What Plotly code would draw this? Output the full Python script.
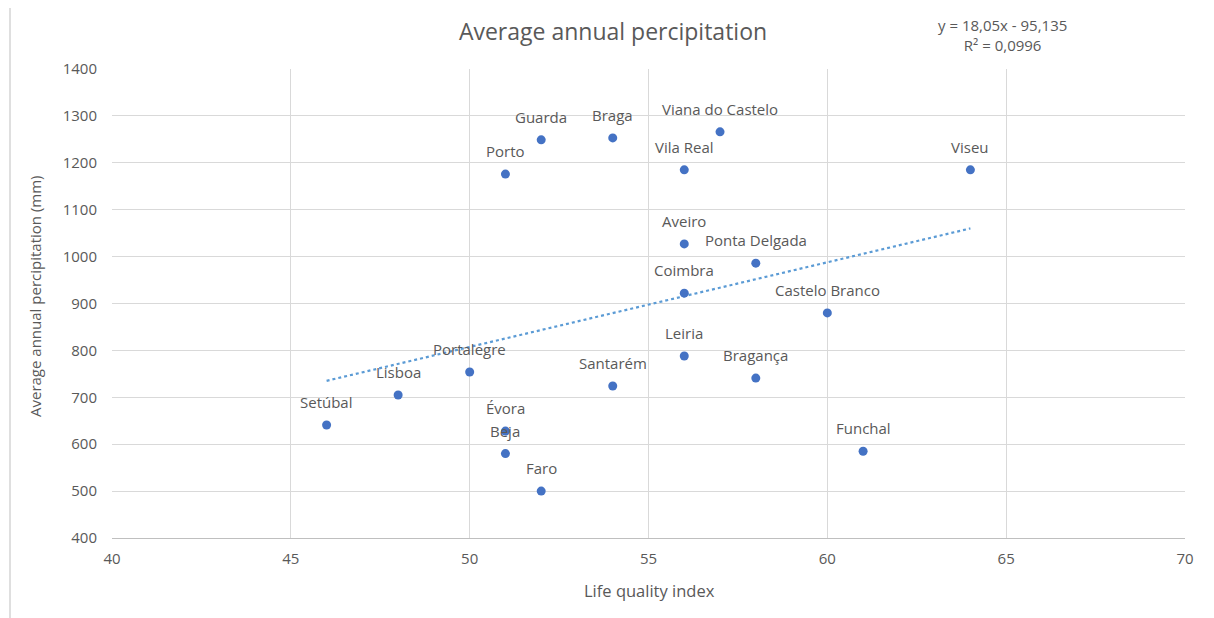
import plotly.graph_objects as go

cities = ["Setúbal", "Lisboa", "Portalegre", "Évora", "Beja", "Faro", "Porto", "Guarda",
          "Braga", "Santarém", "Viana do Castelo", "Vila Real", "Aveiro", "Coimbra", "Leiria",
          "Ponta Delgada", "Bragança", "Castelo Branco", "Funchal", "Viseu"]
life_quality = [46, 48, 50, 51, 51, 52, 51, 52, 54, 54, 57, 56, 56, 56, 56, 58, 58, 60, 61, 64]
precipitation = [641, 705, 754, 628, 580, 500, 1176, 1249, 1253, 724, 1266, 1185, 1027, 922, 788,
                 986, 741, 880, 585, 1185]

trend_slope = 18.05
trend_intercept = -95.135
trend_r2 = "0,0996"
x_ticks = [40, 45, 50, 55, 60, 65, 70]
y_ticks = [400, 500, 600, 700, 800, 900, 1000, 1100, 1200, 1300, 1400]

FONT = "'Open Sans', sans-serif"
TXT = "#595959"

W, H = 1214, 618
L, R, T, B = 104, 37, 61, 88
PW, PH = W - L - R, H - T - B


def px(fx):
    return (fx - L) / PW


def py(fy):
    return (H - B - fy) / PH


fig = go.Figure()

tx = [min(life_quality), max(life_quality)]
ty = [trend_slope * v + trend_intercept for v in tx]
fig.add_trace(go.Scatter(x=tx, y=ty, mode="lines",
                         line=dict(color="#5b9bd5", width=2.2, dash="dot"),
                         hoverinfo="skip", showlegend=False))

fig.add_trace(go.Scatter(x=life_quality, y=precipitation, mode="markers",
                         marker=dict(color="#4472c4", size=9),
                         text=cities, showlegend=False))

for c, xv, yv in zip(cities, life_quality, precipitation):
    fig.add_annotation(x=xv, y=yv, text=c, showarrow=False, yshift=23,
                       font=dict(family=FONT, size=15, color=TXT))

slope_txt = str(trend_slope).replace('.', ',')
icpt_txt = str(abs(trend_intercept)).replace('.', ',')
fig.add_annotation(xref="paper", yref="paper", x=px(994), y=py(26.5),
                   xanchor="center", yanchor="middle",
                   text=f"y = {slope_txt}x - {icpt_txt}<br>R² = {trend_r2}",
                   showarrow=False, align="center",
                   font=dict(family=FONT, size=15, color=TXT))

fig.add_annotation(xref="paper", yref="paper", x=px(641.5), y=py(582),
                   xanchor="center", yanchor="middle",
                   text="Life quality index", showarrow=False,
                   font=dict(family=FONT, size=16.5, color=TXT))
fig.add_annotation(xref="paper", yref="paper", x=px(27), y=py(288), xanchor="center",
                   yanchor="middle", textangle=-90,
                   text="Average annual percipitation (mm)", showarrow=False,
                   font=dict(family=FONT, size=15, color=TXT))

fig.add_shape(type="line", xref="paper", yref="paper",
              x0=px(2), x1=px(2), y0=py(612), y1=py(-3),
              line=dict(color="#bfbfbf", width=1))

fig.update_layout(
    width=W, height=H,
    margin=dict(l=L, r=R, t=T, b=B),
    paper_bgcolor="white", plot_bgcolor="white",
    title=dict(text="Average annual percipitation", x=605 / W, xanchor="center",
               y=1 - 24 / H, yanchor="middle",
               font=dict(family=FONT, size=23, color=TXT)),
    xaxis=dict(range=[40, 70], tickvals=x_ticks, showgrid=True, gridcolor="#d9d9d9",
               zeroline=False, showline=True, linecolor="#bfbfbf", linewidth=1,
               ticks="", ticklabelstandoff=7,
               tickfont=dict(family=FONT, size=15, color=TXT)),
    yaxis=dict(range=[400, 1400], tickvals=y_ticks, showgrid=True, gridcolor="#d9d9d9",
               zeroline=False, showline=False, ticks="",
               ticklabelstandoff=14,
               tickfont=dict(family=FONT, size=15, color=TXT)),
    showlegend=False,
)

fig.write_html("out.html")
